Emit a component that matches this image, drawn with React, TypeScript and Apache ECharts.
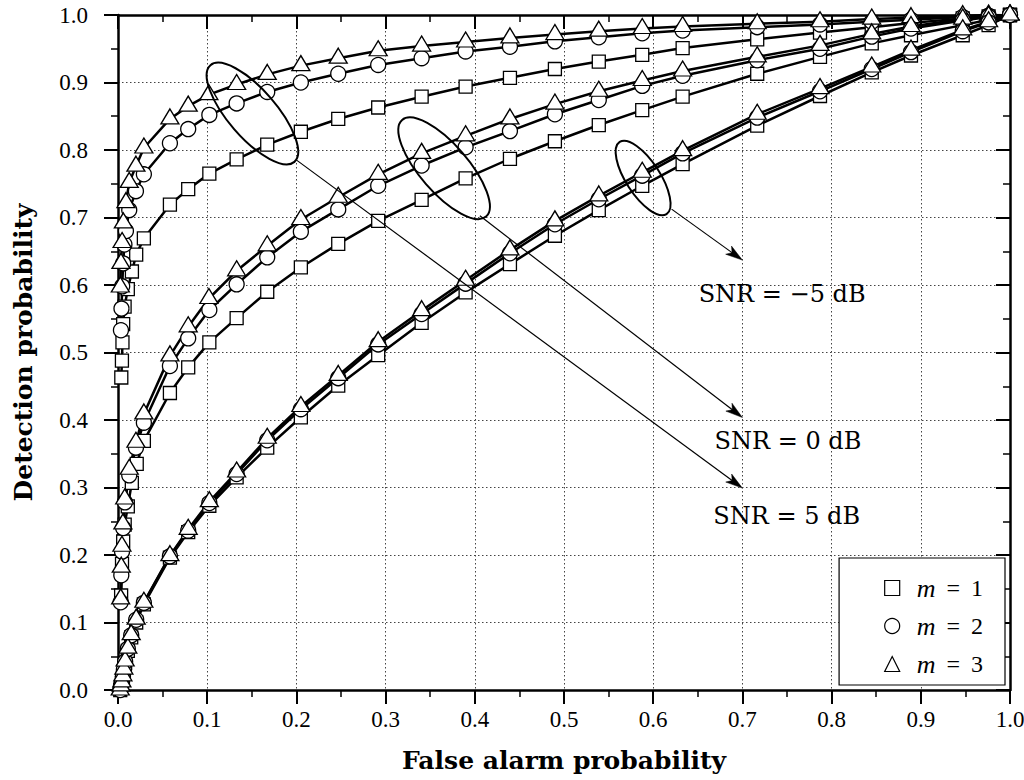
import { useEffect, useRef } from "react";
import * as echarts from "echarts";

type Pt = [number, number];

// ---- Data: (false alarm probability, detection probability) ----
// SNR = 5 dB group (top curves)
const SNR5_M1: Pt[] = [[0.0037,0.463],[0.0044,0.488],[0.005,0.515],[0.0058,0.542],[0.0074,0.568],[0.011,0.594],[0.0156,0.62],[0.0204,0.645],[0.029,0.669],[0.0582,0.719],[0.0787,0.742],[0.1024,0.765],[0.133,0.786],[0.1673,0.808],[0.205,0.827],[0.2469,0.846],[0.2917,0.863],[0.3404,0.879],[0.3897,0.894],[0.4394,0.907],[0.4898,0.92],[0.539,0.931],[0.5877,0.941],[0.633,0.951],[0.7166,0.964],[0.787,0.974],[0.845,0.982],[0.889,0.988],[0.947,0.995],[0.976,0.998],[1,1]];
const SNR5_M2: Pt[] = [[0.0033,0.533],[0.0039,0.565],[0.0047,0.598],[0.0058,0.632],[0.0072,0.66],[0.0089,0.68],[0.0126,0.711],[0.0201,0.739],[0.029,0.764],[0.0582,0.81],[0.0787,0.831],[0.1024,0.852],[0.133,0.869],[0.1673,0.886],[0.205,0.9],[0.2469,0.913],[0.2917,0.926],[0.3404,0.936],[0.3897,0.946],[0.4394,0.953],[0.4898,0.961],[0.539,0.967],[0.5877,0.973],[0.633,0.977],[0.7166,0.982],[0.787,0.986],[0.845,0.99],[0.889,0.993],[0.947,0.997],[0.976,0.999],[1,1]];
const SNR5_M3: Pt[] = [[0.0026,0.597],[0.0033,0.632],[0.0046,0.663],[0.006,0.692],[0.0089,0.722],[0.0126,0.752],[0.0201,0.776],[0.029,0.803],[0.0582,0.846],[0.0787,0.865],[0.1019,0.882],[0.133,0.897],[0.1673,0.912],[0.205,0.925],[0.2469,0.936],[0.2917,0.947],[0.3404,0.954],[0.3897,0.96],[0.4394,0.966],[0.4898,0.971],[0.539,0.976],[0.5877,0.98],[0.633,0.983],[0.7166,0.987],[0.787,0.99],[0.845,0.994],[0.889,0.996],[0.947,0.999],[0.976,1],[1,1]];

// SNR = 0 dB group (middle curves)
const SNR0_M1: Pt[] = [[0.0035,0.14],[0.0045,0.187],[0.0058,0.22],[0.0075,0.245],[0.011,0.272],[0.0155,0.307],[0.021,0.335],[0.029,0.369],[0.0582,0.44],[0.0787,0.478],[0.1024,0.515],[0.133,0.551],[0.1673,0.59],[0.205,0.626],[0.2469,0.661],[0.2917,0.695],[0.3404,0.726],[0.3897,0.758],[0.4394,0.787],[0.4898,0.813],[0.539,0.837],[0.5877,0.859],[0.633,0.879],[0.7166,0.913],[0.787,0.938],[0.845,0.958],[0.889,0.97],[0.947,0.985],[0.976,0.993],[1,1]];
const SNR0_M2: Pt[] = [[0.003,0.13],[0.0037,0.17],[0.0045,0.205],[0.0058,0.24],[0.0078,0.278],[0.0126,0.318],[0.0201,0.359],[0.029,0.396],[0.0582,0.48],[0.0787,0.521],[0.1024,0.563],[0.133,0.601],[0.1673,0.641],[0.205,0.679],[0.2469,0.712],[0.2917,0.747],[0.3404,0.777],[0.3897,0.804],[0.4394,0.828],[0.4898,0.853],[0.539,0.874],[0.5877,0.895],[0.633,0.91],[0.7166,0.933],[0.787,0.95],[0.845,0.968],[0.889,0.98],[0.947,0.992],[0.976,0.997],[1,1]];
const SNR0_M3: Pt[] = [[0.003,0.135],[0.0037,0.182],[0.0044,0.213],[0.0055,0.246],[0.0075,0.283],[0.0126,0.327],[0.0201,0.367],[0.029,0.409],[0.0582,0.495],[0.0787,0.538],[0.1019,0.58],[0.133,0.621],[0.1673,0.658],[0.205,0.697],[0.2469,0.73],[0.2917,0.764],[0.3404,0.795],[0.3897,0.821],[0.4394,0.846],[0.4898,0.868],[0.539,0.887],[0.5877,0.903],[0.633,0.917],[0.7166,0.938],[0.787,0.955],[0.845,0.972],[0.889,0.983],[0.947,0.994],[0.976,0.998],[1,1]];

// SNR = -5 dB group (bottom curves)
const SNRM5_M1: Pt[] = [[0.0025,0],[0.0033,0.005],[0.0044,0.01],[0.0055,0.018],[0.0066,0.028],[0.008,0.04],[0.011,0.058],[0.0148,0.078],[0.0204,0.1],[0.029,0.127],[0.0582,0.196],[0.0787,0.234],[0.1024,0.273],[0.133,0.315],[0.1673,0.359],[0.205,0.404],[0.2469,0.451],[0.2917,0.496],[0.3404,0.544],[0.3897,0.589],[0.4394,0.631],[0.4898,0.673],[0.539,0.711],[0.5877,0.747],[0.633,0.779],[0.7166,0.836],[0.787,0.88],[0.845,0.915],[0.889,0.94],[0.947,0.97],[0.976,0.985],[1,1]];
const SNRM5_M2: Pt[] = [[0.0025,0],[0.0033,0.006],[0.0044,0.011],[0.0055,0.02],[0.0066,0.03],[0.008,0.042],[0.011,0.061],[0.0148,0.081],[0.0204,0.104],[0.029,0.129],[0.0582,0.198],[0.0787,0.236],[0.1024,0.277],[0.133,0.32],[0.1673,0.37],[0.205,0.416],[0.2469,0.462],[0.2917,0.512],[0.3404,0.557],[0.3897,0.602],[0.4394,0.647],[0.4898,0.69],[0.539,0.727],[0.5877,0.762],[0.633,0.795],[0.7166,0.848],[0.787,0.887],[0.845,0.92],[0.889,0.945],[0.947,0.976],[0.976,0.989],[1,1]];
const SNRM5_M3: Pt[] = [[0.0025,0],[0.0033,0.006],[0.0044,0.012],[0.0055,0.021],[0.0066,0.031],[0.008,0.043],[0.011,0.062],[0.0148,0.082],[0.0204,0.105],[0.029,0.13],[0.0582,0.199],[0.0787,0.238],[0.1024,0.279],[0.133,0.323],[0.1673,0.373],[0.205,0.42],[0.2469,0.466],[0.2917,0.516],[0.3404,0.562],[0.3897,0.607],[0.4394,0.652],[0.4898,0.695],[0.539,0.732],[0.5877,0.767],[0.633,0.799],[0.7166,0.853],[0.787,0.891],[0.845,0.923],[0.889,0.948],[0.947,0.978],[0.976,0.99],[1,1]];

const LEGEND_NAMES = ["m = 1", "m = 2", "m = 3"];
const SNR_LABELS = ["SNR = \u22125 dB", "SNR = 0 dB", "SNR = 5 dB"];
const X_TITLE = "False alarm probability";
const Y_TITLE = "Detection probability";

const GROUPS: Pt[][][] = [
  [SNR5_M1, SNR5_M2, SNR5_M3],
  [SNR0_M1, SNR0_M2, SNR0_M3],
  [SNRM5_M1, SNRM5_M2, SNRM5_M3],
];

// ---- Styling / annotation geometry ----
const SERIF = "Liberation Serif";
const BOLD_SERIF = "DejaVu Serif";
const SYMBOLS = ["rect", "circle", "triangle"];
const SYMBOL_SIZES: any[] = [13, 15, [18, 15]];
const SYMBOL_OFFSETS: any[] = [[0, 0], [0, 0], [0, -2.5]];

// ellipses in data coordinates (center), sizes in px, angle in degrees (clockwise)
const ELLIPSES = [
  { center: [0.1507, 0.854] as Pt, rx: 64, ry: 24, angle: 49 },
  { center: [0.3656, 0.7729] as Pt, rx: 64, ry: 24, angle: 49 },
  { center: [0.5887, 0.7585] as Pt, rx: 43, ry: 17, angle: 57 },
];
const ARROWS = [
  { from: [0.2002, 0.785] as Pt, to: [0.7, 0.2991] as Pt },
  { from: [0.4057, 0.7025] as Pt, to: [0.7, 0.4037] as Pt },
  { from: [0.6206, 0.7124] as Pt, to: [0.7, 0.6369] as Pt },
];
const LABEL_POS: Pt[] = [[0.7445, 0.587], [0.751, 0.369], [0.7496, 0.258]];

const axisLineStyle = { color: "#000", width: 2.5 };

export default function App() {
  const ref = useRef<HTMLDivElement>(null);

  useEffect(() => {
    if (!ref.current) return;
    const chart = echarts.init(ref.current, undefined, { renderer: "svg" });

    const series: any[] = [];
    GROUPS.forEach((group) => {
      group.forEach((data, m) => {
        series.push({
          type: "line",
          name: LEGEND_NAMES[m],
          data,
          xAxisIndex: 0,
          yAxisIndex: 0,
          symbol: SYMBOLS[m],
          symbolSize: SYMBOL_SIZES[m],
          symbolOffset: SYMBOL_OFFSETS[m],
          showAllSymbol: true,
          silent: true,
          lineStyle: { color: "#000", width: 2.5 },
          itemStyle: { color: "#fff", borderColor: "#000", borderWidth: 1.3 },
          emphasis: { disabled: true },
        });
      });
    });

    const fmt = (v: number) => v.toFixed(1);

    const option: any = {
      animation: false,
      backgroundColor: "#fff",
      grid: { left: 118, right: 14, top: 15, bottom: 90, containLabel: false, outerBoundsMode: "none" },
      xAxis: [
        {
          type: "value",
          min: 0,
          max: 1,
          interval: 0.1,
          position: "bottom",
          name: X_TITLE,
          nameLocation: "middle",
          nameGap: 58,
          nameTextStyle: { fontFamily: BOLD_SERIF, fontWeight: "bold", fontSize: 25, color: "#000" },
          axisLine: { show: true, onZero: false, lineStyle: axisLineStyle },
          axisTick: { show: true, length: 14, lineStyle: { color: "#000", width: 2 } },
          minorTick: { show: true, splitNumber: 2, length: 7, lineStyle: { color: "#000", width: 1.5 } },
          axisLabel: { formatter: fmt, fontFamily: SERIF, fontSize: 23, color: "#000", margin: 18 },
          splitLine: { show: true, lineStyle: { color: "#444", width: 1, type: [1.5, 2.5] } },
        },
        {
          type: "value",
          min: 0,
          max: 1,
          interval: 0.1,
          position: "top",
          axisLine: { show: true, onZero: false, lineStyle: axisLineStyle },
          axisTick: { show: true, inside: true, length: 14, lineStyle: { color: "#000", width: 2 } },
          minorTick: { show: true, splitNumber: 2, length: 7, lineStyle: { color: "#000", width: 1.5 } },
          axisLabel: { show: false },
          splitLine: { show: false },
        },
      ],
      yAxis: [
        {
          type: "value",
          min: 0,
          max: 1,
          interval: 0.1,
          position: "left",
          name: Y_TITLE,
          nameLocation: "middle",
          nameGap: 82,
          nameTextStyle: { fontFamily: BOLD_SERIF, fontWeight: "bold", fontSize: 25, color: "#000" },
          axisLine: { show: true, onZero: false, lineStyle: axisLineStyle },
          axisTick: { show: true, length: 14, lineStyle: { color: "#000", width: 2 } },
          minorTick: { show: true, splitNumber: 2, length: 7, lineStyle: { color: "#000", width: 1.5 } },
          axisLabel: { formatter: fmt, fontFamily: SERIF, fontSize: 23, color: "#000", margin: 30 },
          splitLine: { show: true, lineStyle: { color: "#444", width: 1, type: [1.5, 2.5] } },
        },
        {
          type: "value",
          min: 0,
          max: 1,
          interval: 0.1,
          position: "right",
          axisLine: { show: true, onZero: false, lineStyle: axisLineStyle },
          axisTick: { show: true, inside: true, length: 14, lineStyle: { color: "#000", width: 2 } },
          minorTick: { show: true, splitNumber: 2, length: 7, lineStyle: { color: "#000", width: 1.5 } },
          axisLabel: { show: false },
          splitLine: { show: false },
        },
      ],
      legend: {
        show: true,
        orient: "vertical",
        right: 19,
        bottom: 95,
        selectedMode: false,
        backgroundColor: "#fff",
        borderColor: "#000",
        borderWidth: 1.2,
        borderRadius: 0,
        padding: [17, 22, 8, 45],
        itemWidth: 15,
        itemHeight: 15,
        itemGap: 12,
        data: LEGEND_NAMES.map((name, m) => ({
          name,
          icon: SYMBOLS[m],
          itemStyle: { color: "#fff", borderColor: "#000", borderWidth: 1.2 },
        })),
        formatter: (name: string) => `{s| }{i|m}{e|=}{n|${name.slice(-1)}}`,
        textStyle: {
          color: "#000",
          fontFamily: SERIF,
          fontSize: 24,
          lineHeight: 24,
          rich: {
            s: { fontFamily: SERIF, fontSize: 24, lineHeight: 24, width: 12 },
            i: { fontFamily: SERIF, fontSize: 26, lineHeight: 24, fontStyle: "italic" },
            e: { fontFamily: SERIF, fontSize: 24, lineHeight: 24, padding: [0, 11, 0, 11] },
            n: { fontFamily: SERIF, fontSize: 24, lineHeight: 24 },
          },
        },
      },
      series,
    };

    chart.setOption(option);

    const px = (p: Pt) => chart.convertToPixel({ xAxisIndex: 0, yAxisIndex: 0 } as any, p) as unknown as number[];
    const graphics: any[] = [];
    ELLIPSES.forEach((e) => {
      const c = px(e.center);
      graphics.push({
        type: "ellipse",
        x: c[0],
        y: c[1],
        rotation: (-e.angle * Math.PI) / 180,
        shape: { cx: 0, cy: 0, rx: e.rx, ry: e.ry },
        style: { fill: "none", stroke: "#000", lineWidth: 2 },
        z: 100,
        silent: true,
      });
    });
    ARROWS.forEach((a) => {
      const s = px(a.from);
      const t = px(a.to);
      const dx = t[0] - s[0];
      const dy = t[1] - s[1];
      const len = Math.hypot(dx, dy);
      const ux = dx / len;
      const uy = dy / len;
      const nx = -uy;
      const ny = ux;
      const L = 17;
      const W = 5;
      const bx = t[0] - L * ux;
      const by = t[1] - L * uy;
      graphics.push({
        type: "line",
        shape: { x1: s[0], y1: s[1], x2: t[0] - 0.6 * L * ux, y2: t[1] - 0.6 * L * uy },
        style: { stroke: "#000", lineWidth: 1.2 },
        z: 100,
        silent: true,
      });
      graphics.push({
        type: "polygon",
        shape: {
          points: [
            [t[0], t[1]],
            [bx + W * nx, by + W * ny],
            [t[0] - 0.75 * L * ux, t[1] - 0.75 * L * uy],
            [bx - W * nx, by - W * ny],
          ],
        },
        style: { fill: "#000", stroke: "#000", lineWidth: 0.5 },
        z: 100,
        silent: true,
      });
    });
    SNR_LABELS.forEach((text, i) => {
      const p = px(LABEL_POS[i]);
      graphics.push({
        type: "text",
        x: p[0],
        y: p[1],
        style: {
          text,
          fontFamily: "DejaVu Serif",
          fontSize: 24,
          fill: "#000",
          align: "center",
          verticalAlign: "middle",
        },
        z: 100,
        silent: true,
      });
    });
    chart.setOption({ graphic: graphics });

    return () => chart.dispose();
  }, []);

  return (
    <div
      ref={ref}
      style={{ position: "fixed", left: 0, top: 0, width: 1024, height: 780, background: "#fff" }}
    />
  );
}
